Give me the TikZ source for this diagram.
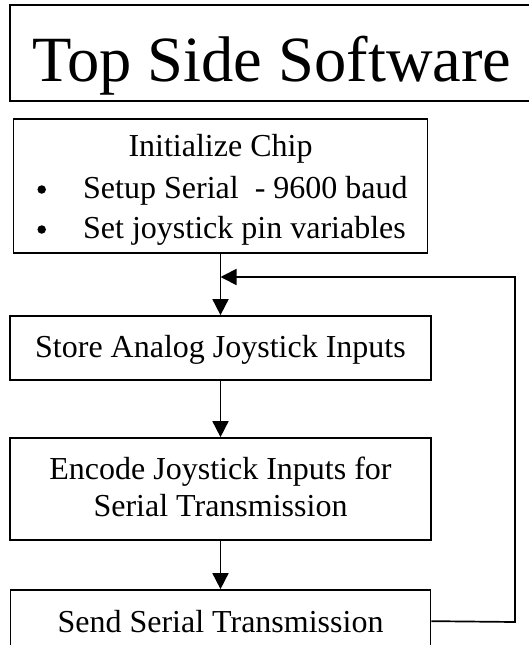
\documentclass[tikz,border=0pt]{standalone}
\usepackage{fontspec}
\setmainfont{Liberation Serif}
\usetikzlibrary{arrows.meta,calc}
\begin{document}
\begin{tikzpicture}[x=1pt,y=-1pt,
  box/.style={draw=black,line width=1.7pt,inner sep=0pt,fill=none},
  txt/.style={inner sep=0pt,font=\fontsize{32}{38}\selectfont},
  bullet/.style={circle,fill=black,inner sep=0pt,minimum size=8.5pt},
  conn/.style={line width=1.7pt,-{Triangle[length=16pt,width=16pt]}},
  plain/.style={line width=1.7pt}]
\useasboundingbox (0,0) rectangle (529,645);
\fill[white] (0,0) rectangle (529,645);
% title
\node[box,minimum width=524pt,minimum height=96pt] (title) at (272,53) {};
\node[inner sep=0pt,anchor=base,font=\fontsize{64.5}{70}\selectfont] (titletxt) at (272,81) {Top Side Software};
% box 1
\node[box,minimum width=414pt,minimum height=134pt] (b1) at (220.5,186) {};
\node[txt,anchor=base] (b1a) at (220.5,156) {Initialize Chip};
\node[bullet] (bul1) at (41.7,189.5) {};
\node[txt,anchor=base west] (b1b) at (83,198) {Setup Serial\ \ - 9600 baud};
\node[bullet] (bul2) at (41.7,229.5) {};
\node[txt,anchor=base west] (b1c) at (83,238) {Set joystick pin variables};
% box 2
\node[box,minimum width=421pt,minimum height=64pt] (b2) at (220.5,348) {};
\node[txt,anchor=base] (b2t) at (220.5,357) {Store Analog Joystick Inputs};
% box 3
\node[box,minimum width=421pt,minimum height=102pt] (b3) at (220.5,489) {};
\node[txt,anchor=base] (b3a) at (220.5,479) {Encode Joystick Inputs for};
\node[txt,anchor=base] (b3b) at (220.5,516) {Serial Transmission};
% box 4
\node[box,minimum width=420pt,minimum height=90pt] (b4) at (220.5,635) {};
\node[txt,anchor=base] (b4t) at (220.5,632) {Send Serial Transmission};
% connectors
\draw[conn] (b1.south) -- (b2.north);
\draw[conn] (b2.south) -- (b3.north);
\draw[conn] (b3.south) -- (b4.north);
\coordinate (fbs) at ($(b4.north east)+(0,32)$);
\coordinate (fbr) at (515,622);
\coordinate (fbt) at (515,277);
\coordinate (join) at (220.5,277);
\draw[conn] (fbs) -- (fbr) -- (fbt) -- (join);
\end{tikzpicture}
\end{document}
